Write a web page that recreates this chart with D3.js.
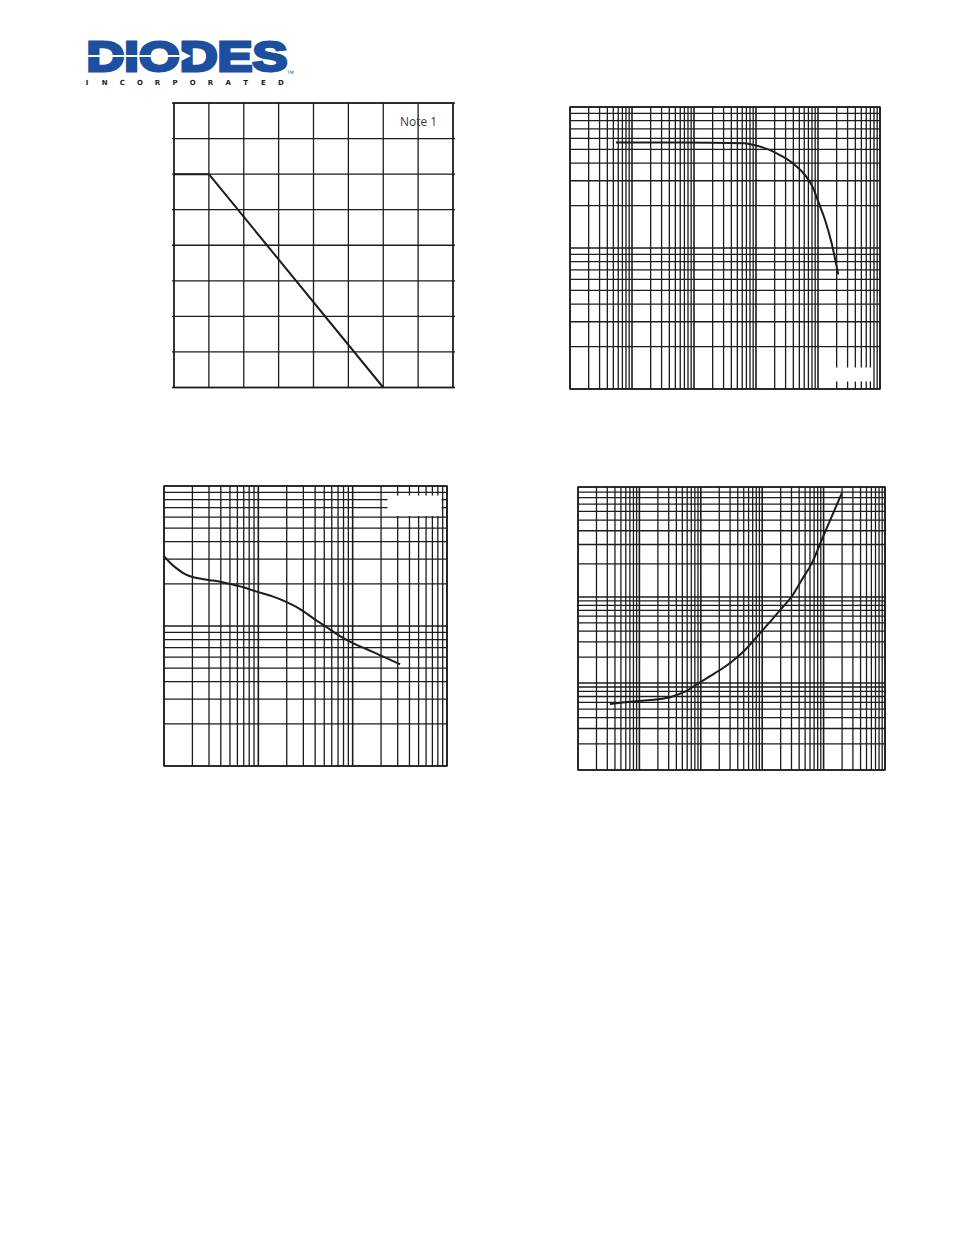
<!DOCTYPE html>
<html><head><meta charset="utf-8">
<script src="https://cdn.jsdelivr.net/npm/d3@7"></script>
<style>html,body{margin:0;padding:0;background:#fff}</style>
</head><body>
<svg id="page" width="954" height="1235"></svg>
<script>
// ---------- DATA ----------
// Chart 1 (top-left): linear derating grid
const derateTicksX = [0, 25, 50, 75, 100, 125, 150, 175, 200];
const derateTicksY = [0, 50, 100, 150, 200, 250, 300, 350, 400];
const derateTemp   = [0, 25, 150];
const deratePower  = [300, 300, 0];
const derateNote   = "Note 1";

// Chart 2 (top-right): log-log, flat then falling
const gainDomainX  = [0.1, 10000];
const gainDomainY  = [10, 1000];
const gainCurrent  = [0.55, 6, 66, 96, 158, 260, 425, 620, 840, 1010, 1300, 1660, 2120];
const gainValue    = [560, 560, 553, 535, 501, 449, 388, 329, 265, 213, 158, 108, 65];

// Chart 3 (bottom-left): log-log, decreasing
const capDomainX   = [0.1, 100];
const capDomainY   = [1, 100];
const capVoltage   = [0.1, 0.116, 0.136, 0.167, 0.205, 0.261, 0.333, 0.462, 0.693, 0.961, 1.44, 2.0, 2.77, 3.83, 5.31, 7.34, 10.2, 14.1, 21.1, 31.8];
const capValue     = [31.6, 28.3, 25.8, 23.5, 22.3, 21.6, 21.1, 20.2, 18.9, 17.6, 16.2, 14.8, 13.2, 11.35, 9.79, 8.48, 7.52, 6.82, 6.04, 5.33];

// Chart 4 (bottom-right): log-log, rising
const satDomainX   = [0.1, 10000];
const satDecadesY  = [1, 10, 100, 1000];
const satCurrent   = [0.332, 0.583, 1.09, 2.03, 3.36, 5.53, 9.1, 17.0, 31.9, 52.5, 86.4, 143, 208, 302, 440, 640, 931, 1355, 1972];
const satVoltage   = [5.74, 6.0, 6.26, 6.5, 6.96, 7.94, 9.92, 13.0, 17.7, 24.2, 36.1, 54.1, 74.0, 101, 143, 202, 330, 537, 877];

// Logo text
const logoWord = "DIODES";
const logoSub  = ["I","N","C","O","R","P","O","R","A","T","E","D"];

// ---------- DRAWING ----------
const svg = d3.select("#page");
svg.append("rect").attr("width", 954).attr("height", 1235).attr("fill", "#fff");
const INK = "#1f1b1c";

// Logo
const BLUE = "#1d4f9e";
const logo = svg.append("g");
logo.append("text")
  .attr("x", 86.5).attr("y", 71)
  .attr("font-family", "'Liberation Sans', Arial, sans-serif")
  .attr("font-weight", "bold").attr("font-size", 43)
  .attr("textLength", 201).attr("lengthAdjust", "spacingAndGlyphs")
  .attr("fill", BLUE).attr("stroke", BLUE).attr("stroke-width", 3)
  .attr("stroke-linejoin", "miter")
  .text(logoWord);
logo.append("line").attr("x1", 85).attr("x2", 181).attr("y1", 56).attr("y2", 56)
  .attr("stroke", "#fff").attr("stroke-width", 2);
logo.append("path").attr("d", "M180,50.5 L191,56 L180,61.5 Z").attr("fill", "#fff");
logo.append("text").attr("x", 287).attr("y", 74)
  .attr("font-family", "'DejaVu Sans', sans-serif").attr("font-size", 4.5)
  .attr("fill", BLUE).text("TM");
const subScale = d3.scalePoint().domain(d3.range(logoSub.length)).range([87, 281]);
logo.selectAll("text.sub").data(logoSub).join("text").attr("class", "sub")
  .attr("x", (d, i) => subScale(i)).attr("y", 84.5)
  .attr("text-anchor", "middle")
  .attr("font-family", "'DejaVu Sans', sans-serif").attr("font-weight", "bold")
  .attr("font-size", 7).attr("fill", INK).text(d => d);

function isDecade(t) {
  const l = Math.log10(t);
  return Math.abs(l - Math.round(l)) < 1e-6;
}

function drawGrid(g, x, y, xt, yt, logGrid, stub) {
  const [x0, x1] = x.range();
  const yb = Math.max(...y.range()), ytop = Math.min(...y.range());
  g.selectAll("line.v").data(xt).join("line").attr("class", "v")
    .attr("x1", d => x(d)).attr("x2", d => x(d))
    .attr("y1", ytop).attr("y2", yb)
    .attr("stroke", INK)
    .attr("stroke-width", d => logGrid && isDecade(d) ? 1.6 : 1.3);
  g.selectAll("line.h").data(yt).join("line").attr("class", "h")
    .attr("x1", x0 - (stub || 0)).attr("x2", x1 + (stub || 0))
    .attr("y1", d => y(d)).attr("y2", d => y(d))
    .attr("stroke", INK)
    .attr("stroke-width", d => logGrid && isDecade(d) ? 1.6 : 1.3);
  g.append("rect").attr("x", x0).attr("y", ytop)
    .attr("width", x1 - x0).attr("height", yb - ytop)
    .attr("fill", "none").attr("stroke", INK).attr("stroke-width", 1.4);
}

function drawCurve(g, x, y, xs, ys, curve) {
  g.append("path")
    .datum(xs.map((v, i) => [v, ys[i]]))
    .attr("fill", "none").attr("stroke", INK).attr("stroke-width", 2)
    .attr("stroke-linejoin", "round")
    .attr("d", d3.line().x(d => x(d[0])).y(d => y(d[1])).curve(curve));
}

// ---- Chart 1 ----
{
  const g = svg.append("g");
  const x = d3.scaleLinear().domain([0, 200]).range([174, 453]);
  const y = d3.scaleLinear().domain([0, 400]).range([387.5, 103]);
  drawGrid(g, x, y, derateTicksX, derateTicksY, false, 2);
  drawCurve(g, x, y, derateTemp, deratePower, d3.curveLinear);
  g.append("text").attr("x", 400).attr("y", 125.5)
    .attr("font-family", "'Open Sans', sans-serif").attr("font-size", 13.5)
    .attr("textLength", 37).attr("lengthAdjust", "spacingAndGlyphs")
    .attr("fill", "#3a3a3a").text(derateNote);
}

// ---- Chart 2 ----
{
  const g = svg.append("g");
  const x = d3.scaleLog().domain(gainDomainX).range([570, 880]);
  const y = d3.scaleLog().domain(gainDomainY).range([389, 107]);
  drawGrid(g, x, y, x.ticks(), y.ticks(), true, 0);
  g.append("rect").attr("x", 835).attr("y", 367.5).attr("width", 37.5).attr("height", 14).attr("fill", "#fff");
  drawCurve(g, x, y, gainCurrent, gainValue, d3.curveMonotoneX);
}

// ---- Chart 3 ----
{
  const g = svg.append("g");
  const x = d3.scaleLog().domain(capDomainX).range([164, 447]);
  const y = d3.scaleLog().domain(capDomainY).range([766, 486]);
  drawGrid(g, x, y, x.ticks(), y.ticks(), true, 0);
  g.append("rect").attr("x", 387.5).attr("y", 495.5).attr("width", 54).attr("height", 20.5).attr("fill", "#fff");
  drawCurve(g, x, y, capVoltage, capValue, d3.curveMonotoneX);
}

// ---- Chart 4 ----
{
  const g = svg.append("g");
  const x = d3.scaleLog().domain(satDomainX).range([578, 885]);
  const y = d3.scaleLog().domain(satDecadesY).range([770, 683, 597, 487]);
  drawGrid(g, x, y, x.ticks(), y.ticks(), true, 0);
  drawCurve(g, x, y, satCurrent, satVoltage, d3.curveMonotoneX);
}
</script>
</body></html>
